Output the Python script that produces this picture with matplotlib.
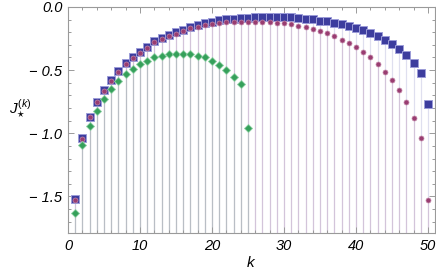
import matplotlib
matplotlib.use("Agg")
import matplotlib.pyplot as plt
from matplotlib.ticker import MultipleLocator, FuncFormatter

# data
k_all = list(range(1, 51))
k_green = list(range(1, 26))

blue_sq = [-1.524, -1.04, -0.87, -0.75, -0.66, -0.58, -0.51, -0.445, -0.40, -0.357,
           -0.317, -0.27, -0.246, -0.22, -0.196, -0.18, -0.161, -0.145, -0.127, -0.116,
           -0.106, -0.098, -0.093, -0.087, -0.085, -0.082, -0.080, -0.079, -0.079, -0.080,
           -0.082, -0.087, -0.093, -0.098, -0.108, -0.114, -0.124, -0.138, -0.151, -0.164,
           -0.185, -0.206, -0.23, -0.26, -0.294, -0.336, -0.384, -0.44, -0.52, -0.77]

purple_ci = [-1.53, -1.045, -0.875, -0.755, -0.665, -0.585, -0.515, -0.45, -0.405, -0.362,
             -0.322, -0.28, -0.256, -0.23, -0.212, -0.19, -0.17, -0.159, -0.145, -0.135,
             -0.127, -0.122, -0.119, -0.116, -0.116, -0.116, -0.116, -0.119, -0.124, -0.13,
             -0.137, -0.148, -0.161, -0.175, -0.193, -0.21, -0.23, -0.26, -0.288, -0.32,
             -0.36, -0.40, -0.455, -0.513, -0.58, -0.66, -0.754, -0.876, -1.04, -1.53]

green_di = [-1.63, -1.09, -0.94, -0.82, -0.73, -0.65, -0.59, -0.53, -0.49, -0.45,
            -0.425, -0.40, -0.39, -0.373, -0.37, -0.37, -0.375, -0.39, -0.40, -0.43,
            -0.46, -0.50, -0.553, -0.614, -0.955]

plt.rcParams["font.family"] = ["Liberation Sans", "DejaVu Sans"]
plt.rcParams["mathtext.fontset"] = "custom"
plt.rcParams["mathtext.it"] = "Liberation Sans:italic"
plt.rcParams["mathtext.rm"] = "Liberation Sans"

YMIN, YMAX = -1.79, 0.0
BLUE, PURPLE, GREEN = "#3d3d9e", "#993d71", "#35a05a"
AXC = "#9a9a9a"

fig = plt.figure(figsize=(4.36, 2.74), dpi=100)
ax = fig.add_axes([0.156, 0.1496, 0.842, 0.825])

# filling to the bottom, drawn as thin translucent lines
for ys, xs, c in [(blue_sq, k_all, BLUE), (purple_ci, k_all, PURPLE), (green_di, k_green, GREEN)]:
    ax.vlines(xs, YMIN, ys, colors=c, alpha=0.16, linewidth=0.9, zorder=1)

ax.plot(k_all, blue_sq, "s", ms=5.4, mfc=BLUE, mec="#9c9cd8", mew=0.7, zorder=3)
ax.plot(k_all, purple_ci, "o", ms=3.6, mfc=PURPLE, mec="#c48aab", mew=0.5, zorder=4)
ax.plot(k_green, green_di, "D", ms=3.6, mfc=GREEN, mec="#8fd0a4", mew=0.6, zorder=5)

ax.set_xlim(0, 51)
ax.set_ylim(YMIN, YMAX)

ax.xaxis.set_major_locator(MultipleLocator(10))
ax.xaxis.set_minor_locator(MultipleLocator(2))
ax.yaxis.set_major_locator(MultipleLocator(0.5))
ax.yaxis.set_minor_locator(MultipleLocator(0.1))


def yfmt(v, pos):
    s = f"{abs(v):.1f}"
    return s if v > -1e-9 else "\u2212 " + s


ax.yaxis.set_major_formatter(FuncFormatter(yfmt))

for sp in ax.spines.values():
    sp.set_color(AXC)
    sp.set_linewidth(0.8)

ax.tick_params(which="both", direction="in", top=True, right=True, color=AXC, width=0.7,
               labelsize=10.5, pad=4)
ax.tick_params(which="major", length=4.5)
ax.tick_params(which="minor", length=2.5)
for lbl in ax.get_xticklabels() + ax.get_yticklabels():
    lbl.set_fontstyle("italic")

ax.set_xlabel("$k$", fontsize=11, labelpad=2)
ax.set_ylabel(r"$J_{\star}^{(k)}$", fontsize=11, rotation=0, ha="center", va="center")
ax.yaxis.set_label_coords(-0.13, 0.55)

fig.savefig("out.png", dpi=100)
